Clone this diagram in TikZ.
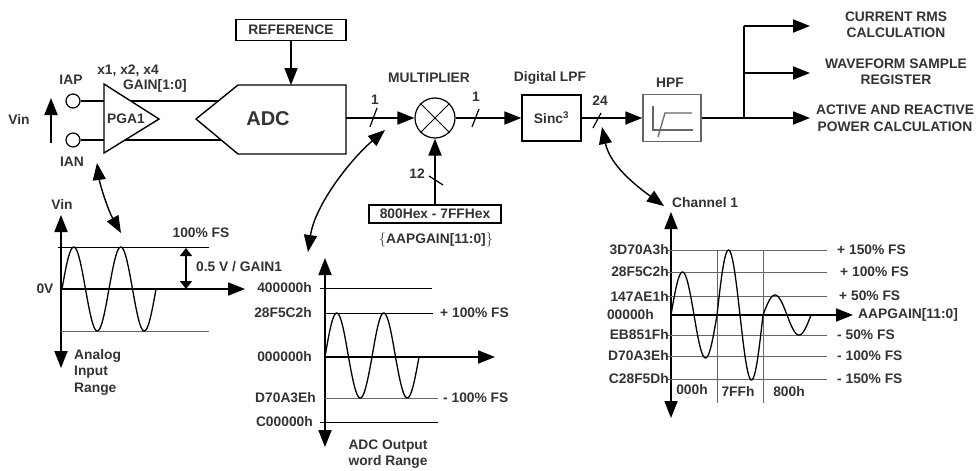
\documentclass[tikz,border=0pt]{standalone}
\usepackage{fontspec}
\setmainfont{Liberation Sans}
\usetikzlibrary{arrows.meta}
\newlength{\du}
\setlength{\du}{10pt}
\definecolor{lblcolor}{rgb}{0.200000, 0.200000, 0.200000}
\definecolor{gridcolor}{rgb}{0.400000, 0.400000, 0.400000}
\newcommand{\lblfont}{\fontsize{13.8}{16.5}\selectfont\bfseries}
\tikzset{
  >={Triangle[length=17pt,width=13pt]},
  lbl/.style={font=\lblfont, text=lblcolor, inner sep=0pt},
  blk/.style={draw, line width=1.4pt, inner sep=0pt},
  port/.style={draw, circle, line width=1.2pt, minimum size=1.4\du, inner sep=0pt},
  sig/.style={line width=1.8pt},
  busmark/.style={line width=1.2pt},
  axisline/.style={line width=1.8pt, <->},
  gridline/.style={line width=0.9pt},
  wave/.style={line width=1.3pt},
  link/.style={line width=1.4pt, <->},
}

\begin{document}
\begin{tikzpicture}
\pgftransformxscale{1.000000}
\pgftransformyscale{-1.000000}
\useasboundingbox (0\du,0\du) rectangle (97.7\du,47.1\du);
% reference and adc
\node[blk, lbl, minimum width=11\du, minimum height=2.1\du] (ref) at (29.1\du,3.0\du) {REFERENCE};
\draw[line width=1.4pt] (19.6\du,11.9\du)--(23.8\du,8.5\du)--(34.6\du,8.5\du)--(34.6\du,15.4\du)--(23.8\du,15.4\du)--cycle;
\node[lbl, font=\fontsize{20}{24}\selectfont\bfseries] (adc) at (26.8\du,11.9\du) {ADC};
\coordinate (adctop) at (29.1\du,8.5\du);
\coordinate (adcout) at (34.6\du,11.8\du);
\draw[sig,->] (ref.south) -- (adctop);
% pga and inputs
\draw[line width=1.4pt] (10.4\du,8.4\du)--(10.4\du,15.3\du)--(15.9\du,11.9\du)--cycle;
\node[lbl, anchor=west] (pga) at (10.7\du,11.9\du) {PGA1};
\node[port] (iap) at (7.3\du,10.1\du) {};
\node[port] (ian) at (7.3\du,14.0\du) {};
\coordinate (pgap) at (10.4\du,10.1\du);
\coordinate (pgan) at (10.4\du,14.0\du);
\coordinate (pgaout1) at (13.07\du,10.1\du);
\coordinate (adcin1) at (21.88\du,10.1\du);
\coordinate (pgaout2) at (12.50\du,14.0\du);
\coordinate (adcin2) at (22.07\du,14.0\du);
\draw[line width=1.2pt] (iap.east) -- (pgap);
\draw[line width=1.2pt] (ian.east) -- (pgan);
\draw[line width=1.2pt] (pgaout1) -- (adcin1);
\draw[line width=1.2pt] (pgaout2) -- (adcin2);
\node[lbl] (iaplbl) at (7.1\du,8.0\du) {IAP};
\node[lbl] (ianlbl) at (7.2\du,16.2\du) {IAN};
\node[lbl] (vinlbl) at (1.9\du,11.9\du) {Vin};
\node[lbl] (gainsel) at (12.8\du,7.1\du) {x1, x2, x4};
\node[lbl] (gainbits) at (15.5\du,8.6\du) {GAIN[1:0]};
\coordinate (vinlo) at (5.1\du,14.3\du);
\coordinate (vinhi) at (5.1\du,9.8\du);
\draw[sig,->] (vinlo) -- (vinhi);
% multiplier
\node[draw, circle, line width=1.2pt, minimum size=4\du, inner sep=0pt] (mult) at (43.5\du,11.8\du) {};
\draw[line width=1pt] (mult.45) -- (mult.225);
\draw[line width=1pt] (mult.135) -- (mult.315);
\draw[sig,->] (adcout) -- (mult.west);
\draw[busmark] (37.0\du,12.7\du) -- (37.7\du,10.8\du);
\node[lbl] (bits1) at (37.5\du,10.0\du) {1};
\node[lbl] (multlbl) at (42.9\du,7.8\du) {MULTIPLIER};
% digital lpf
\node[blk, lbl, minimum width=5.9\du, minimum height=4.6\du] (lpf) at (55.15\du,11.8\du) {Sinc\textsuperscript{3}};
\draw[sig,->] (mult.east) -- (lpf.west);
\draw[busmark] (47.2\du,12.7\du) -- (47.9\du,10.9\du);
\node[lbl] (bits2) at (47.6\du,9.7\du) {1};
\node[lbl] (lpflbl) at (55.0\du,7.8\du) {Digital LPF};
% hpf
\node[blk, draw=gridcolor, minimum width=5.8\du, minimum height=4.7\du] (hpf) at (67.2\du,11.8\du) {};
\draw[sig,->] (lpf.east) -- (hpf.west);
\draw[busmark] (59.3\du,12.8\du) -- (60.1\du,11.3\du);
\node[lbl] (bits24) at (60.0\du,10.1\du) {24};
\node[lbl] (hpflbl) at (67.0\du,8.3\du) {HPF};
\draw[line width=1.3pt, gridcolor] (65.3\du,10.6\du)--(65.3\du,13.0\du)--(69.3\du,13.0\du);
\draw[line width=1.3pt, gridcolor] (65.8\du,13.7\du)--(66.5\du,11.3\du)--(69.2\du,11.3\du);
% outputs
\coordinate (split) at (74.4\du,11.8\du);
\coordinate (splittop) at (74.4\du,2.6\du);
\coordinate (splitmid) at (74.4\du,7.3\du);
\coordinate (tiprms) at (81.0\du,2.6\du);
\coordinate (tipwfs) at (81.0\du,7.3\du);
\coordinate (tippwr) at (81.0\du,11.8\du);
\draw[sig] (hpf.east) -- (split) -- (splittop);
\draw[sig,->] (splittop) -- (tiprms);
\draw[sig,->] (splitmid) -- (tipwfs);
\draw[sig,->] (split) -- (tippwr);
\node[lbl, align=center] (rms) at (89.6\du,2.45\du) {CURRENT RMS\\CALCULATION};
\node[lbl, align=center] (wfs) at (89.6\du,7.15\du) {WAVEFORM SAMPLE\\REGISTER};
\node[lbl, align=center] (pwr) at (89.5\du,11.8\du) {ACTIVE AND REACTIVE\\POWER CALCULATION};
% gain register
\node[blk, lbl, minimum width=13.2\du, minimum height=1.8\du] (gain) at (43.5\du,21.4\du) {800Hex - 7FFHex};
\draw[sig,->] (gain.north) -- (mult.south);
\draw[busmark] (42.9\du,17.6\du) -- (44.3\du,18.5\du);
\node[lbl] (bits12) at (41.7\du,17.4\du) {12};
\node[lbl] (gainreg) at (43.6\du,24.0\du) {$\Big\{$AAPGAIN[11:0]$\Big\}$};
% links to the graphs
\coordinate (pgalink) at (9.7\du,16.3\du);
\coordinate (inlink) at (12.1\du,23.3\du);
\draw[link] (pgalink) .. controls (10.0\du,18.5\du) and (10.8\du,21.0\du) .. (inlink);
\coordinate (adclink) at (38.5\du,13.0\du);
\coordinate (outlink) at (30.8\du,25.2\du);
\draw[link] (adclink) .. controls (35.0\du,16.0\du) and (31.5\du,20.5\du) .. (outlink);
\coordinate (buslink) at (60.2\du,12.7\du);
\coordinate (chlink) at (66.4\du,20.6\du);
\draw[link] (buslink) .. controls (61.0\du,16.5\du) and (63.5\du,18.5\du) .. (chlink);
% analog input range
\coordinate (intop) at (6.1\du,21.5\du);
\coordinate (inbot) at (6.1\du,36.8\du);
\coordinate (inzero) at (6.1\du,28.9\du);
\coordinate (inend) at (24.5\du,28.9\du);
\draw[axisline] (inbot) -- (intop);
\draw[sig,->] (inzero) -- (inend);
\draw[gridline] (5.8\du,24.7\du) -- (20.9\du,24.7\du);
\draw[gridline, gridcolor] (6.1\du,33.1\du) -- (20.9\du,33.1\du);
\begin{scope}[x=1\du,y=1\du]
\draw[wave] plot[domain=0:720, samples=120, smooth] ({6.2+9.4*\x/720}, {28.9-4.2*sin(\x)});
\end{scope}
\coordinate (fstop) at (18.6\du,24.8\du);
\coordinate (fszero) at (18.6\du,28.9\du);
\draw[link, line width=1.6pt, {Triangle[length=8pt,width=12pt]}-{Triangle[length=8pt,width=12pt]}] (fszero) -- (fstop);
\node[lbl] (invin) at (6.2\du,20.4\du) {Vin};
\node[lbl] (inzerolbl) at (4.5\du,28.9\du) {0V};
\node[lbl] (infs) at (20.1\du,23.3\du) {100\% FS};
\node[lbl, anchor=west] (inspan) at (19.6\du,26.7\du) {0.5 V / GAIN1};
\node[lbl, anchor=west, align=left] (inrange) at (7.4\du,37.2\du) {Analog\\Input\\Range};
% adc output word range
\coordinate (adctopax) at (32.5\du,25.8\du);
\coordinate (adcbotax) at (32.5\du,44.7\du);
\coordinate (adczero) at (32.5\du,35.7\du);
\coordinate (adcend) at (49.5\du,35.7\du);
\draw[axisline] (adcbotax) -- (adctopax);
\draw[sig,->] (adczero) -- (adcend);
\draw[gridline] (32.0\du,28.8\du) -- (43.2\du,28.8\du);
\draw[gridline] (32.5\du,31.3\du) -- (43.3\du,31.3\du);
\draw[gridline, gridcolor] (32.5\du,39.8\du) -- (43.8\du,39.8\du);
\draw[gridline] (32.0\du,42.2\du) -- (43.8\du,42.2\du);
\begin{scope}[x=1\du,y=1\du]
\draw[wave] plot[domain=0:720, samples=120, smooth] ({32.5+9.4*\x/720}, {35.7-(sin(\x)>0 ? 4.4 : 4.1)*sin(\x)});
\end{scope}
\node[lbl, anchor=east] (w400) at (31.2\du,28.8\du) {400000h};
\node[lbl, anchor=east] (w28f) at (31.2\du,31.3\du) {28F5C2h};
\node[lbl, anchor=east] (w000) at (31.2\du,35.7\du) {000000h};
\node[lbl, anchor=east] (wd70) at (31.6\du,39.8\du) {D70A3Eh};
\node[lbl, anchor=east] (wc00) at (31.3\du,42.2\du) {C00000h};
\node[lbl, anchor=west] (wpos) at (44.0\du,31.3\du) {+ 100\% FS};
\node[lbl, anchor=west] (wneg) at (44.3\du,39.8\du) {- 100\% FS};
\node[lbl, align=center] (wrange) at (38.8\du,45.4\du) {ADC Output\\word Range};
% channel 1
\coordinate (chtop) at (67.1\du,21.2\du);
\coordinate (chbot) at (67.1\du,41.8\du);
\coordinate (chzero) at (67.1\du,31.5\du);
\coordinate (chend) at (85.3\du,31.5\du);
\draw[axisline] (chbot) -- (chtop);
\draw[sig,->] (chzero) -- (chend);
\draw[gridline, gridcolor] (66.7\du,25.0\du) -- (82.7\du,25.0\du);
\draw[gridline, gridcolor] (66.7\du,27.2\du) -- (82.7\du,27.2\du);
\draw[gridline, gridcolor] (66.7\du,29.6\du) -- (82.7\du,29.6\du);
\draw[gridline, gridcolor] (66.7\du,33.5\du) -- (82.7\du,33.5\du);
\draw[gridline, gridcolor] (66.7\du,35.6\du) -- (82.7\du,35.6\du);
\draw[gridline, gridcolor] (66.7\du,37.9\du) -- (82.7\du,37.9\du);
\draw[gridline, gridcolor] (71.7\du,25.0\du) -- (71.7\du,40.3\du);
\draw[gridline, gridcolor] (76.3\du,25.0\du) -- (76.3\du,40.3\du);
\begin{scope}[x=1\du,y=1\du]
\draw[wave] plot[domain=0:360, samples=60, smooth] ({67.1+4.6*\x/360}, {31.5-4.3*sin(\x)});
\draw[wave] plot[domain=0:360, samples=60, smooth] ({71.7+4.6*\x/360}, {31.5-6.5*sin(\x)});
\draw[wave] plot[domain=0:360, samples=60, smooth] ({76.3+4.8*\x/360}, {31.5-2.0*sin(\x)});
\end{scope}
\node[lbl, anchor=west] (chlbl) at (67.2\du,20.3\du) {Channel 1};
\node[lbl, anchor=east] (c3d7) at (66.9\du,25.0\du) {3D70A3h};
\node[lbl, anchor=east] (c28f) at (66.9\du,27.2\du) {28F5C2h};
\node[lbl, anchor=east] (c147) at (66.9\du,29.6\du) {147AE1h};
\node[lbl, anchor=east] (c000) at (65.4\du,31.5\du) {00000h};
\node[lbl, anchor=east] (ceb8) at (66.9\du,33.5\du) {EB851Fh};
\node[lbl, anchor=east] (cd70) at (66.9\du,35.6\du) {D70A3Eh};
\node[lbl, anchor=east] (cc28) at (66.9\du,37.9\du) {C28F5Dh};
\node[lbl, anchor=west] (cp150) at (83.7\du,25.0\du) {+ 150\% FS};
\node[lbl, anchor=west] (cp100) at (84.0\du,27.2\du) {+ 100\% FS};
\node[lbl, anchor=west] (cp50) at (83.9\du,29.6\du) {+ 50\% FS};
\node[lbl, anchor=west] (cgain) at (85.8\du,31.5\du) {AAPGAIN[11:0]};
\node[lbl, anchor=west] (cm50) at (83.7\du,33.5\du) {- 50\% FS};
\node[lbl, anchor=west] (cm100) at (83.7\du,35.6\du) {- 100\% FS};
\node[lbl, anchor=west] (cm150) at (83.7\du,37.9\du) {- 150\% FS};
\node[lbl] (x000) at (69.2\du,39.0\du) {000h};
\node[lbl] (x7ff) at (73.8\du,39.1\du) {7FFh};
\node[lbl] (x800) at (78.9\du,39.2\du) {800h};
\end{tikzpicture}
\end{document}
